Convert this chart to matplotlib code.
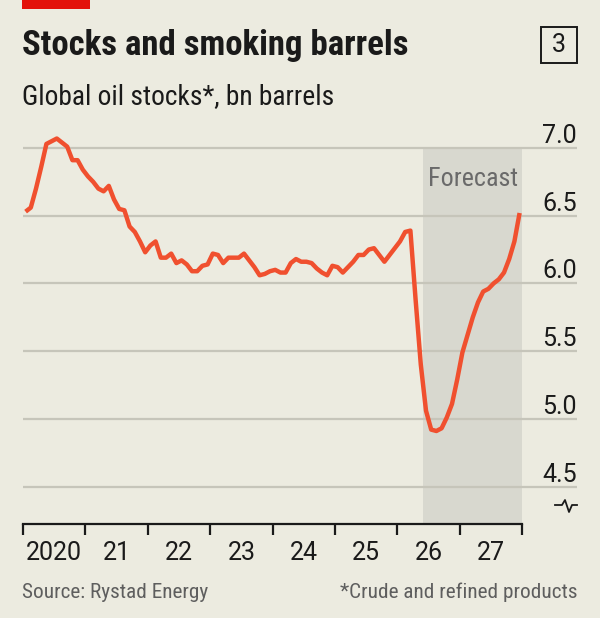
import matplotlib
matplotlib.use("Agg")
import matplotlib.pyplot as plt
import matplotlib.transforms as mtransforms
import numpy as np

plt.rcParams['font.family'] = ['Roboto Condensed', 'Roboto', 'DejaVu Sans']

# ---- data (monthly, Jan 2020 - Dec 2027), bn barrels ----
start_year = 2020
values = [
    6.53, 6.56, 6.70, 6.86, 7.03, 7.05, 7.07, 7.04, 7.01, 6.91, 6.91, 6.84,   # 2020
    6.79, 6.75, 6.70, 6.68, 6.72, 6.62, 6.55, 6.54, 6.42, 6.38, 6.31, 6.23,   # 2021
    6.28, 6.31, 6.19, 6.19, 6.22, 6.15, 6.17, 6.14, 6.09, 6.09, 6.13, 6.14,   # 2022
    6.22, 6.21, 6.15, 6.19, 6.19, 6.19, 6.22, 6.17, 6.12, 6.06, 6.07, 6.09,   # 2023
    6.10, 6.08, 6.08, 6.15, 6.18, 6.16, 6.16, 6.15, 6.11, 6.08, 6.06, 6.13,   # 2024
    6.12, 6.08, 6.12, 6.16, 6.21, 6.21, 6.25, 6.26, 6.21, 6.16, 6.21, 6.26,   # 2025
    6.31, 6.38, 6.39, 5.88, 5.40, 5.06, 4.92, 4.91, 4.93, 5.01, 5.11, 5.29,   # 2026
    5.49, 5.62, 5.75, 5.86, 5.94, 5.96, 6.00, 6.03, 6.08, 6.18, 6.31, 6.52,   # 2027
]
year_labels = ["2020", "21", "22", "23", "24", "25", "26", "27"]
y_ticks = [4.5, 5.0, 5.5, 6.0, 6.5, 7.0]
y_tick_labels = ["4.5", "5.0", "5.5", "6.0", "6.5", "7.0"]
forecast_start = 2026.41
forecast_end = 2028.0

# ---- style ----
BG = "#ecebe0"
SHADE = "#d8d8cf"
GRID = "#c6c5ba"
LINE = "#f0502f"
TXT = "#1a1a1a"
GREY = "#5e5e5e"

W, H = 600, 618
fig = plt.figure(figsize=(W / 100, H / 100), dpi=100, facecolor=BG)

ax_left, ax_right = 23, 577
ax_bottom, ax_top = 524, 125
ax = fig.add_axes([ax_left / W, 1 - ax_bottom / H,
                   (ax_right - ax_left) / W, (ax_bottom - ax_top) / H])
ax.set_facecolor(BG)

x_end = 2020 + (ax_right - 23) / 62.4
ax.set_xlim(2020, x_end)
ymin = 7.0 - (ax_bottom - 148) / 135.4
ymax = 7.0 + (148 - ax_top) / 135.4
ax.set_ylim(ymin, ymax)

# forecast shading
ax.fill_between([forecast_start, forecast_end], ymin, 7.0, color=SHADE, lw=0, zorder=0)

# gridlines
for yt in y_ticks:
    ax.axhline(yt, color=GRID, lw=1.6, zorder=1)

# y labels above gridlines, right aligned
offset = mtransforms.offset_copy(ax.transData, fig=fig, x=0, y=5, units='dots')
ylab_tr = mtransforms.blended_transform_factory(ax.transAxes, offset)
for yt, lab in zip(y_ticks, y_tick_labels):
    ax.text(1.0, yt, lab, transform=ylab_tr, ha='right', va='baseline',
            fontsize=18, color=TXT, family=['Roboto', 'DejaVu Sans'])

# line
x = start_year + (np.arange(len(values)) + 0.5) / 12
ax.plot(x, values, color=LINE, lw=3.2, solid_capstyle='butt', solid_joinstyle='round', zorder=3)

# forecast label
ax.text((forecast_start + forecast_end) / 2, 6.77, "Forecast", ha='center', va='center',
        fontsize=18.8, color="#6a6a6a")

# axes styling
for s in ['top', 'right', 'left']:
    ax.spines[s].set_visible(False)
ax.spines['bottom'].set_bounds(2020, 2028)
ax.spines['bottom'].set_linewidth(1.6)
ax.spines['bottom'].set_color(TXT)
ax.set_yticks([])
ax.set_xticks(np.arange(2020, 2029))
ax.set_xticklabels([])
ax.tick_params(axis='x', which='major', length=8, width=1.6, color=TXT, direction='out')
ax.set_xticks(np.arange(2020, 2028) + 0.5, minor=True)
ax.set_xticklabels(year_labels, minor=True)
ax.tick_params(axis='x', which='minor', length=0, pad=12, labelsize=18, labelcolor=TXT)
for lab in ax.get_xticklabels(minor=True):
    lab.set_family(['Roboto', 'DejaVu Sans'])

# axis break symbol
bx = [555, 562, 565, 569, 572, 577]
by = [505, 505, 500, 512, 505, 505]
fig.add_artist(plt.Line2D([v / W for v in bx], [1 - v / H for v in by],
                          transform=fig.transFigure, color=TXT, lw=1.3))

# red tag
fig.add_artist(plt.Rectangle((22 / W, 1 - 9 / H), 68 / W, 9 / H,
                             transform=fig.transFigure, color="#e3120b", lw=0))

# title and subtitle
fig.text(22 / W, 1 - 46 / H, "Stocks and smoking barrels", ha='left', va='center',
         fontsize=25, fontweight='bold', color=TXT)
fig.text(22 / W, 1 - 97 / H, "Global oil stocks*, bn barrels", ha='left', va='center',
         fontsize=19.8, color=TXT)

# chart number box
fig.add_artist(plt.Rectangle((541 / W, 1 - 63 / H), 36 / W, 36 / H,
                             transform=fig.transFigure, fill=False, ec=TXT, lw=1.4))
fig.text(559 / W, 1 - 45 / H, "3", ha='center', va='center', fontsize=18, color=TXT,
         family=['Roboto', 'DejaVu Sans'])

# footer
fig.text(22 / W, 1 - 592 / H, "Source: Rystad Energy", ha='left', va='center',
         fontsize=15.3, color=GREY)
fig.text(577 / W, 1 - 592 / H, "*Crude and refined products", ha='right', va='center',
         fontsize=15.3, color=GREY)

fig.savefig("out.png", dpi=100, facecolor=BG)
